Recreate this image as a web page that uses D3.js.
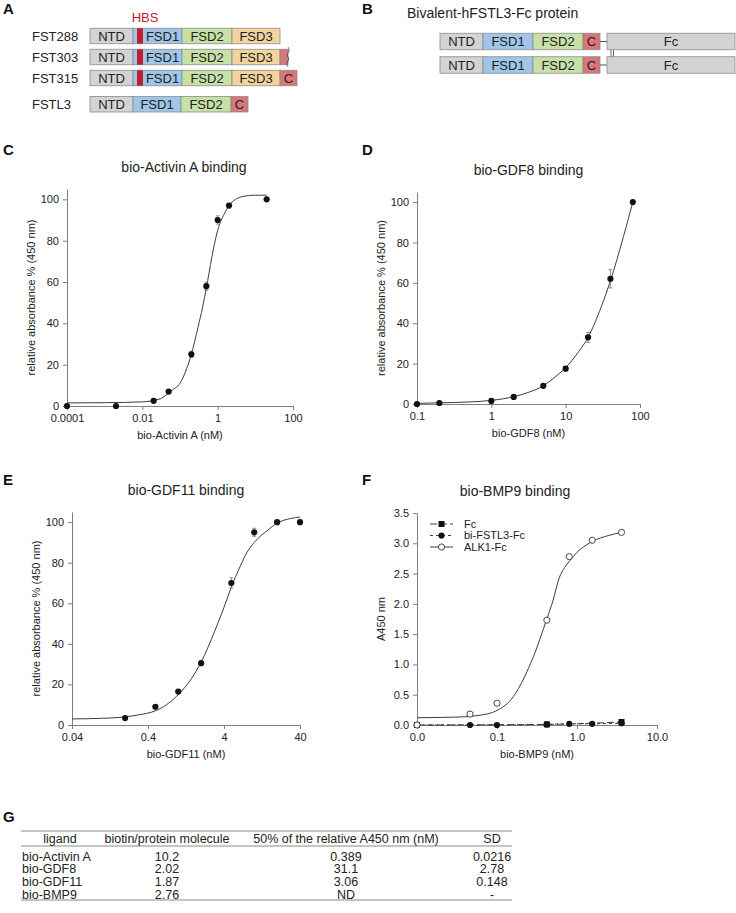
<!DOCTYPE html>
<html>
<head>
<meta charset="utf-8">
<script src="https://cdn.jsdelivr.net/npm/d3@7"></script>
<style>
  body { margin: 0; background: #fff; }
  text { font-family: "Liberation Sans", Arial, sans-serif; }
</style>
</head>
<body>
<div id="fig"></div>
<script>
// ---------- panel A / B : domain structures ----------
const aProteins = ["FST288", "FST303", "FST315", "FSTL3"];
const aGroup = [0, 0, 0, 1];
const aDomains = [
  ["NTD", "FSD1", "FSD2", "FSD3"],
  ["NTD", "FSD1", "FSD2", "FSD3", "C"],
  ["NTD", "FSD1", "FSD2", "FSD3", "C"],
  ["NTD", "FSD1", "FSD2", "C"]
];
const aLengths = [[43, 49, 50, 48], [43, 49, 50, 48, 8], [43, 49, 50, 48, 17], [43, 48, 50, 17]];
const bDomains = ["NTD", "FSD1", "FSD2", "C"];
const bLengths = [43, 50, 50, 17];
const bLinker = 7, bFcLength = 128;

// ---------- panel C : bio-Activin A ----------
const actX = [0.0001, 0.002, 0.02, 0.05, 0.2, 0.5, 1, 2, 20];
const actY = [0, 0, 2.5, 7, 25, 58, 90, 97, 100];
const actErr = [0, 0, 0.5, 0.5, 1.5, 2, 2, 1, 0.5];
const actFit = [[0.0001, 1.5], [0.001, 1.6], [0.01, 2], [0.03, 3.5], [0.06, 7.5], [0.1, 11], [0.15, 18], [0.2, 25],
  [0.3, 38], [0.4, 48], [0.5, 57], [0.7, 72], [1, 85], [1.5, 93], [2, 97], [3, 100], [5, 101.5], [10, 102], [20, 102]];

// ---------- panel D : bio-GDF8 ----------
const gdf8X = [0.1, 0.2, 1, 2, 5, 10, 20, 40, 80];
const gdf8Y = [0, 0.5, 1.5, 3.5, 9, 17.5, 33, 62, 100];
const gdf8Err = [0, 0, 0.3, 0.3, 0.5, 1, 2.5, 4.5, 0.5];
const gdf8Fit = [[0.1, 0.3], [0.2, 0.6], [0.5, 1], [1, 1.8], [2, 3.6], [3, 5.5], [5, 9], [7, 13], [10, 18],
  [15, 26], [20, 33], [30, 48], [40, 61], [60, 83], [80, 100]];

// ---------- panel E : bio-GDF11 ----------
const gdf11X = [0.2, 0.5, 1, 2, 5, 10, 20, 40];
const gdf11Y = [3.4, 9, 16.5, 30.5, 70, 95, 100, 100];
const gdf11Err = [0.3, 0.5, 0.5, 1, 2.5, 2, 0.5, 0.5];
const gdf11Fit = [[0.04, 3], [0.1, 3.3], [0.2, 4], [0.3, 5], [0.5, 7], [0.7, 10], [1, 15], [1.5, 23], [2, 31],
  [3, 46], [4, 58], [5, 68], [6.5, 78], [8, 85], [10, 90], [15, 96], [20, 99.5], [30, 101.8], [40, 102.5]];

// ---------- panel F : bio-BMP9 ----------
const bmpSeries = ["Fc", "bi-FSTL3-Fc", "ALK1-Fc"];
const fcX = [0.01, 0.42, 3.6];
const fcY = [0, 0.01, 0.05];
const fstl3X = [0.01, 0.046, 0.1, 0.42, 0.8, 1.55, 3.6];
const fstl3Y = [0, 0, 0, 0.01, 0.02, 0.02, 0.03];
const alk1X = [0.01, 0.046, 0.1, 0.42, 0.8, 1.55, 3.6];
const alk1Y = [0, 0.18, 0.36, 1.73, 2.78, 3.05, 3.18];
const alk1Fit = [[0.01, 0.12], [0.03, 0.13], [0.06, 0.16], [0.1, 0.24], [0.15, 0.42], [0.2, 0.68], [0.25, 0.95],
  [0.3, 1.2], [0.35, 1.45], [0.42, 1.75], [0.5, 2.05], [0.6, 2.43], [0.7, 2.6], [0.8, 2.7], [1.0, 2.85],
  [1.3, 2.97], [1.55, 3.03], [2.5, 3.13], [3.6, 3.18]];

// ---------- panel G : table ----------
const tblHeaders = ["ligand", "biotin/protein molecule", "50% of the relative A450 nm (nM)", "SD"];
const tblLigands = ["bio-Activin A", "bio-GDF8", "bio-GDF11", "bio-BMP9"];
const tblBiotin = ["10.2", "2.02", "1.87", "2.76"];
const tblHalf = ["0.389", "31.1", "3.06", "ND"];
const tblSD = ["0.0216", "2.78", "0.148", "-"];

const domainFill = { NTD: "#d3d3d3", FSD1: "#9fc5e8", FSD2: "#c6e0a6", FSD3: "#f2d49c", C: "#d8767b", Fc: "#d3d3d3" };
const textCol = "#222";
const axisCol = "#7f7f7f";

const svg = d3.select("#fig").append("svg")
  .attr("width", 736).attr("height", 913)
  .style("background", "#fff");

function panelLetter(t, x, y) {
  svg.append("text").attr("x", x).attr("y", y).text(t)
    .style("font-size", "15px").style("font-weight", "bold").attr("fill", "#111");
}
panelLetter("A", 3, 14);
panelLetter("B", 362, 14);
panelLetter("C", 3, 155);
panelLetter("D", 362, 155);
panelLetter("E", 3, 485);
panelLetter("F", 362, 485);
panelLetter("G", 3, 822);

function drawBox(g, x0, x1, yc, h, name, label, labelX) {
  g.append("rect").attr("x", x0).attr("y", yc - h / 2).attr("width", x1 - x0).attr("height", h)
    .attr("fill", domainFill[name]).attr("stroke", "#8c8c8c").attr("stroke-width", 0.8);
  if (label) {
    g.append("text").attr("x", labelX != null ? labelX : (x0 + x1) / 2).attr("y", yc).attr("dy", "0.36em")
      .attr("text-anchor", "middle").style("font-size", "13px").attr("fill", textCol).text(label);
  }
}

// ---- A
const aX = d3.scaleLinear().domain([0, 190]).range([90, 280]);
const aY = d3.scaleLinear().domain([0, 2]).range([36, 78]);
const gA = svg.append("g");
aProteins.forEach((p, i) => {
  const yc = aY(i + aGroup[i] * 0.25);
  const hasHBS = aGroup[i] === 0;
  gA.append("text").attr("x", 32).attr("y", yc).attr("dy", "0.36em")
    .style("font-size", "13px").attr("fill", textCol).text(p);
  let start = 0;
  aDomains[i].forEach((d, j) => {
    const len = aLengths[i][j];
    const truncated = d === "C" && len < 12;
    const lx = (hasHBS && d === "FSD1") ? (aX(53) + aX(start + len)) / 2 : null;
    drawBox(gA, aX(start), aX(start + len), yc, 15.5, d, truncated ? null : d, lx);
    if (truncated) {
      const xe = aX(start + len);
      const wave = d3.line().curve(d3.curveBasis);
      gA.append("path")
        .attr("d", wave([[xe, yc - 10], [xe + 2, yc - 6], [xe - 2, yc - 2], [xe + 2, yc + 2], [xe - 2, yc + 6], [xe, yc + 10]]))
        .attr("fill", "none").attr("stroke", "#444").attr("stroke-width", 0.8);
    }
    start += len;
  });
  if (hasHBS) {
    // heparin-binding sequence at the start of FSD1
    gA.append("rect").attr("x", aX(47)).attr("y", yc - 7.75).attr("width", aX(53) - aX(47)).attr("height", 15.5)
      .attr("fill", "#c0202e");
  }
});
gA.append("text").attr("x", aX(55)).attr("y", 22).attr("text-anchor", "middle")
  .style("font-size", "13px").attr("fill", "#c0202e").text("HBS");

// ---- B
const bX = d3.scaleLinear().domain([0, 295]).range([440, 735]);
const gB = svg.append("g");
gB.append("text").attr("x", 407).attr("y", 18).style("font-size", "14px").attr("fill", textCol)
  .text("Bivalent-hFSTL3-Fc protein");
[41.5, 65].forEach(yc => {
  let start = 0;
  bDomains.forEach((d, j) => {
    drawBox(gB, bX(start), bX(start + bLengths[j]), yc, 16.5, d, d);
    start += bLengths[j];
  });
  gB.append("line").attr("x1", bX(start)).attr("x2", bX(start + bLinker)).attr("y1", yc).attr("y2", yc)
    .attr("stroke", "#555").attr("stroke-width", 1);
  drawBox(gB, bX(start + bLinker), bX(start + bLinker + bFcLength), yc, 16.5, "Fc", "Fc");
});
// disulfide bonds between the Fc chains
const bFcStart = d3.sum(bLengths) + bLinker;
[4, 6.5].forEach(o => {
  gB.append("line").attr("x1", bX(bFcStart + o)).attr("x2", bX(bFcStart + o)).attr("y1", 50).attr("y2", 56.5)
    .attr("stroke", "#444").attr("stroke-width", 0.8);
});

// ---------- dose-response panels ----------
function styleAxis(sel) {
  sel.attr("font-family", null).attr("font-size", null);
  sel.selectAll(".domain").attr("stroke", axisCol);
  sel.selectAll(".tick line").attr("stroke", axisCol);
  sel.selectAll(".tick text").attr("fill", textCol).style("font-size", "11px");
}

function dosePanel(o) {
  const g = svg.append("g");
  const x = d3.scaleLog().domain(o.xDomain).range(o.xRange);
  const y = d3.scaleLinear().domain(o.yDomain).range(o.yRange);

  g.append("g").attr("transform", `translate(0,${o.yRange[0]})`)
    .call(d3.axisBottom(x).tickValues(o.xTicks).tickFormat(o.xFmt).tickSize(4).tickSizeOuter(0).tickPadding(4))
    .call(styleAxis);
  g.append("g").attr("transform", `translate(${o.xRange[0]},0)`)
    .call(d3.axisLeft(y).tickValues(o.yTicks).tickFormat(o.yFmt).tickSize(4).tickSizeOuter(0).tickPadding(4))
    .call(styleAxis);

  g.append("text").attr("x", (o.xRange[0] + o.xRange[1]) / 2 + (o.titleShift || 0)).attr("y", o.yRange[1] - 17)
    .attr("text-anchor", "middle").style("font-size", "14px").attr("fill", textCol).text(o.title);
  g.append("text").attr("x", (o.xRange[0] + o.xRange[1]) / 2).attr("y", o.yRange[0] + 33)
    .attr("text-anchor", "middle").style("font-size", "11px").attr("fill", textCol).text(o.xLabel);
  g.append("text")
    .attr("transform", `translate(${o.xRange[0] - 32},${(o.yRange[0] + o.yRange[1]) / 2}) rotate(-90)`)
    .attr("text-anchor", "middle").style("font-size", "11px").attr("fill", textCol).text(o.yLabel);

  const line = d3.line().x(d => x(d[0])).y(d => y(d[1])).curve(d3.curveMonotoneX);
  (o.lines || []).forEach(l => {
    g.append("path").datum(l.data).attr("d", line).attr("fill", "none")
      .attr("stroke", "#3c3c3c").attr("stroke-width", 1).attr("stroke-dasharray", l.dash || null);
  });

  (o.points || []).forEach(s => {
    const pts = s.x.map((v, i) => ({ x: v, y: s.y[i], e: s.err ? s.err[i] : 0 }));
    const eb = g.append("g").attr("stroke", "#777").attr("stroke-width", 0.8);
    pts.filter(p => p.e > 0.6).forEach(p => {
      const cx = x(p.x);
      eb.append("line").attr("x1", cx).attr("x2", cx).attr("y1", y(p.y - p.e)).attr("y2", y(p.y + p.e));
      [p.y - p.e, p.y + p.e].forEach(v => eb.append("line").attr("x1", cx - 2).attr("x2", cx + 2).attr("y1", y(v)).attr("y2", y(v)));
    });
    drawMarkers(g, pts.map(p => [x(p.x), y(p.y)]), s.shape || "dot");
  });
  return { x, y, g };
}

function drawMarkers(g, xy, shape) {
  if (shape === "square") {
    g.selectAll(null).data(xy).enter().append("rect")
      .attr("x", d => d[0] - 3).attr("y", d => d[1] - 3).attr("width", 6).attr("height", 6).attr("fill", "#111");
  } else {
    g.selectAll(null).data(xy).enter().append("circle")
      .attr("cx", d => d[0]).attr("cy", d => d[1]).attr("r", 3.1)
      .attr("fill", shape === "open" ? "#fff" : "#111")
      .attr("stroke", shape === "open" ? "#333" : "none").attr("stroke-width", 0.9);
  }
}

const pctTicks = [0, 20, 40, 60, 80, 100];
const relLabel = "relative absorbance % (450 nm)";

dosePanel({
  title: "bio-Activin A binding", xLabel: "bio-Activin A (nM)", yLabel: relLabel,
  xDomain: [0.0001, 100], xRange: [67, 293], yDomain: [0, 105], yRange: [406, 189],
  xTicks: [0.0001, 0.01, 1, 100], xFmt: d3.format("~g"), yTicks: pctTicks, yFmt: d3.format("d"),
  lines: [{ data: actFit }], points: [{ x: actX, y: actY, err: actErr }], titleShift: 4
});

dosePanel({
  title: "bio-GDF8 binding", xLabel: "bio-GDF8 (nM)", yLabel: relLabel,
  xDomain: [0.1, 100], xRange: [417, 640], yDomain: [0, 105], yRange: [404, 192],
  xTicks: [0.1, 1, 10, 100], xFmt: d3.format("~g"), yTicks: pctTicks, yFmt: d3.format("d"),
  lines: [{ data: gdf8Fit }], points: [{ x: gdf8X, y: gdf8Y, err: gdf8Err }]
});

dosePanel({
  title: "bio-GDF11 binding", xLabel: "bio-GDF11 (nM)", yLabel: relLabel,
  xDomain: [0.04, 40], xRange: [72, 300], yDomain: [0, 105], yRange: [725, 512],
  xTicks: [0.04, 0.4, 4, 40], xFmt: d3.format("~g"), yTicks: pctTicks, yFmt: d3.format("d"),
  lines: [{ data: gdf11Fit }], points: [{ x: gdf11X, y: gdf11Y, err: gdf11Err }]
});

const fcDash = "7,3", fstl3Dash = "3,3";
const pF = dosePanel({
  title: "bio-BMP9 binding", xLabel: "bio-BMP9 (nM)", yLabel: "A450 nm",
  xDomain: [0.01, 10], xRange: [417, 657], yDomain: [0, 3.5], yRange: [725, 513],
  xTicks: [0.01, 0.1, 1, 10], xFmt: d3.format(".1f"), yTicks: d3.range(0, 3.51, 0.5), yFmt: d3.format(".1f"),
  lines: [
    { data: fcX.map((v, i) => [v, fcY[i]]), dash: fcDash },
    { data: fstl3X.map((v, i) => [v, fstl3Y[i]]), dash: fstl3Dash },
    { data: alk1Fit }
  ],
  points: [
    { x: fstl3X, y: fstl3Y, shape: "dot" },
    { x: fcX, y: fcY, shape: "square" },
    { x: alk1X, y: alk1Y, shape: "open" }
  ],
  titleShift: -22
});

// legend for F
const legShapes = ["square", "dot", "open"];
const legDash = [fcDash, fstl3Dash, null];
const legY = d3.scalePoint().domain(bmpSeries).range([524, 547]);
bmpSeries.forEach((s, i) => {
  const yy = legY(s);
  pF.g.append("line").attr("x1", 430).attr("x2", 453).attr("y1", yy).attr("y2", yy)
    .attr("stroke", "#3c3c3c").attr("stroke-width", 1).attr("stroke-dasharray", legDash[i]);
  drawMarkers(pF.g, [[441.5, yy]], legShapes[i]);
  pF.g.append("text").attr("x", 464).attr("y", yy).attr("dy", "0.36em")
    .style("font-size", "11px").attr("fill", textCol).text(s);
});

// ---------- G table ----------
const gT = svg.append("g");
const colX = [60, 167, 346, 492];
const tblLeft = 21, tblRight = 512;
const rowY = d3.scaleLinear().domain([0, 3]).range([856, 894]);
[831, 846, 900].forEach(yy => {
  gT.append("line").attr("x1", tblLeft).attr("x2", tblRight).attr("y1", yy).attr("y2", yy)
    .attr("stroke", "#8a8a8a").attr("stroke-width", 1);
});
tblHeaders.forEach((h, i) => {
  gT.append("text").attr("x", colX[i]).attr("y", 838.5).attr("dy", "0.36em").attr("text-anchor", "middle")
    .style("font-size", "12.5px").attr("fill", textCol).text(h);
});
tblLigands.forEach((l, r) => {
  const yy = rowY(r);
  const cells = [l, tblBiotin[r], tblHalf[r], tblSD[r]];
  cells.forEach((c, i) => {
    gT.append("text").attr("x", i === 0 ? tblLeft + 1 : colX[i]).attr("y", yy).attr("dy", "0.36em")
      .attr("text-anchor", i === 0 ? "start" : "middle")
      .style("font-size", "12.5px").attr("fill", textCol).text(c);
  });
});
</script>
</body>
</html>
